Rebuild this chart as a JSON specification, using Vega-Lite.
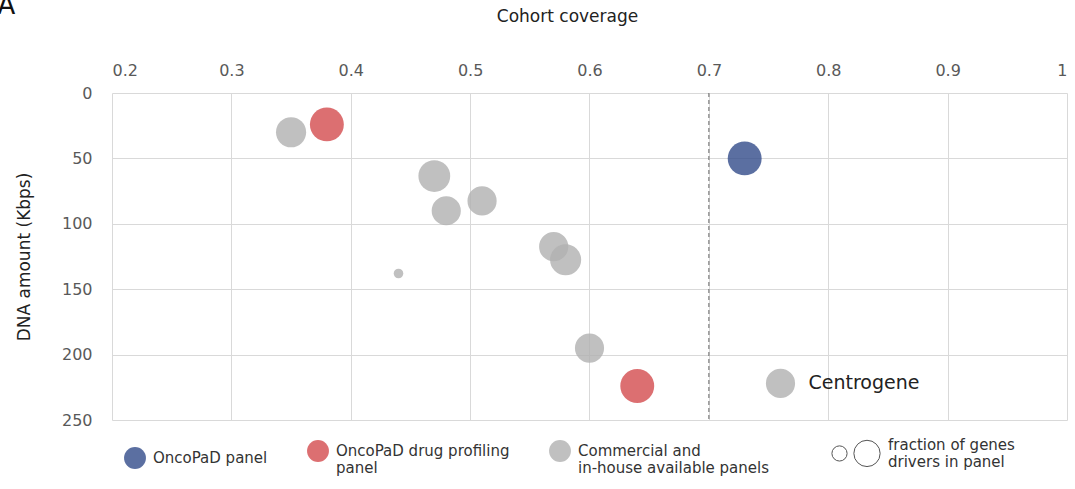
{
  "$schema": "https://vega.github.io/schema/vega-lite/v6.json",
  "autosize": {"type": "none"},
  "width": 955,
  "height": 327,
  "padding": {"left": 112, "top": 93, "right": 8, "bottom": 69},
  "background": "white",
  "title": {"text": "A", "anchor": "start", "frame": "bounds", "fontSize": 26, "fontWeight": "normal", "font": "DejaVu Sans", "color": "#111", "offset": -12, "dx": -18},
  "config": {
    "font": "DejaVu Sans",
    "view": {"stroke": null},
    "axis": {"gridColor": "#d9d9d9", "gridWidth": 1, "domain": false, "ticks": false, "labelColor": "#595959", "labelFontSize": 16, "titleFontWeight": "normal", "titleFontSize": 17, "titleColor": "#222"}
  },
  "layer": [
    {
      "data": {"values": [{"x": 0.7}]},
      "mark": {"type": "rule", "color": "#666666", "strokeDash": [4, 3], "strokeWidth": 1},
      "encoding": {"x": {"field": "x", "type": "quantitative", "scale": {"domain": [0.2, 1]}}}
    },
    {
      "data": {"values": [
        {"coverage": 0.35, "dna": 30, "type": "Commercial and in-house available panels", "frac": 0.79, "label": ""},
        {"coverage": 0.47, "dna": 63.5, "type": "Commercial and in-house available panels", "frac": 0.88, "label": ""},
        {"coverage": 0.48, "dna": 90, "type": "Commercial and in-house available panels", "frac": 0.74, "label": ""},
        {"coverage": 0.51, "dna": 82.5, "type": "Commercial and in-house available panels", "frac": 0.74, "label": ""},
        {"coverage": 0.44, "dna": 138, "type": "Commercial and in-house available panels", "frac": 0.08, "label": ""},
        {"coverage": 0.57, "dna": 117.5, "type": "Commercial and in-house available panels", "frac": 0.74, "label": ""},
        {"coverage": 0.58, "dna": 127.5, "type": "Commercial and in-house available panels", "frac": 0.84, "label": ""},
        {"coverage": 0.60, "dna": 195, "type": "Commercial and in-house available panels", "frac": 0.74, "label": ""},
        {"coverage": 0.76, "dna": 222, "type": "Commercial and in-house available panels", "frac": 0.74, "label": "Centrogene"},
        {"coverage": 0.38, "dna": 24, "type": "OncoPaD drug profiling panel", "frac": 1.0, "label": ""},
        {"coverage": 0.64, "dna": 224, "type": "OncoPaD drug profiling panel", "frac": 1.0, "label": ""},
        {"coverage": 0.73, "dna": 50, "type": "OncoPaD panel", "frac": 1.0, "label": ""}
      ]},
      "layer": [
        {
          "mark": {"type": "circle", "opacity": 0.8},
          "encoding": {
            "x": {"field": "coverage", "type": "quantitative", "scale": {"domain": [0.2, 1], "zero": false, "nice": false},
              "axis": {"orient": "top", "title": "Cohort coverage", "values": [0.2, 0.3, 0.4, 0.5, 0.6, 0.7, 0.8, 0.9, 1.0], "format": ".1~f", "labelPadding": 15, "titlePadding": 37, "titleX": 455}},
            "y": {"field": "dna", "type": "quantitative", "scale": {"domain": [0, 250], "reverse": true, "nice": false},
              "axis": {"title": "DNA amount (Kbps)", "values": [0, 50, 100, 150, 200, 250], "labelPadding": 20, "titlePadding": 28}},
            "color": {"field": "type", "type": "nominal",
              "scale": {"domain": ["OncoPaD panel", "OncoPaD drug profiling panel", "Commercial and in-house available panels"], "range": ["#324b89", "#d34b4d", "#b0b0b0"]},
              "legend": {"orient": "none", "legendX": 11, "legendY": 346, "direction": "horizontal", "columns": 3, "title": null,
                "symbolType": "circle", "symbolSize": 480, "symbolOpacity": 0.8, "labelFontSize": 15, "labelColor": "#333", "labelLimit": 400, "columnPadding": 38, "labelOffset": 6,
                "labelExpr": "datum.label == 'OncoPaD drug profiling panel' ? ['OncoPaD drug profiling', 'panel'] : datum.label == 'Commercial and in-house available panels' ? ['Commercial and', 'in-house available panels'] : datum.label"}},
            "size": {"field": "frac", "type": "quantitative", "scale": {"type": "linear", "domain": [0, 1], "range": [0, 1150], "zero": true},
              "legend": {"orient": "none", "legendX": 719, "legendY": 346, "direction": "horizontal", "values": [0.2, 0.6],
                "title": ["fraction of genes", "drivers in panel"], "titleOrient": "right", "titleFontWeight": "normal", "titleFontSize": 15, "titleColor": "#333", "titlePadding": 6,
                "symbolFillColor": "white", "symbolStrokeColor": "#555", "symbolStrokeWidth": 1, "symbolOpacity": 1, "labelExpr": "''", "labelOffset": 0, "columnPadding": 1}}
          }
        },
        {
          "transform": [{"filter": "datum.label != ''"}],
          "mark": {"type": "text", "align": "left", "baseline": "middle", "dx": 28, "fontSize": 19, "color": "#222"},
          "encoding": {
            "x": {"field": "coverage", "type": "quantitative"},
            "y": {"field": "dna", "type": "quantitative"},
            "text": {"field": "label"}
          }
        }
      ]
    }
  ]
}
